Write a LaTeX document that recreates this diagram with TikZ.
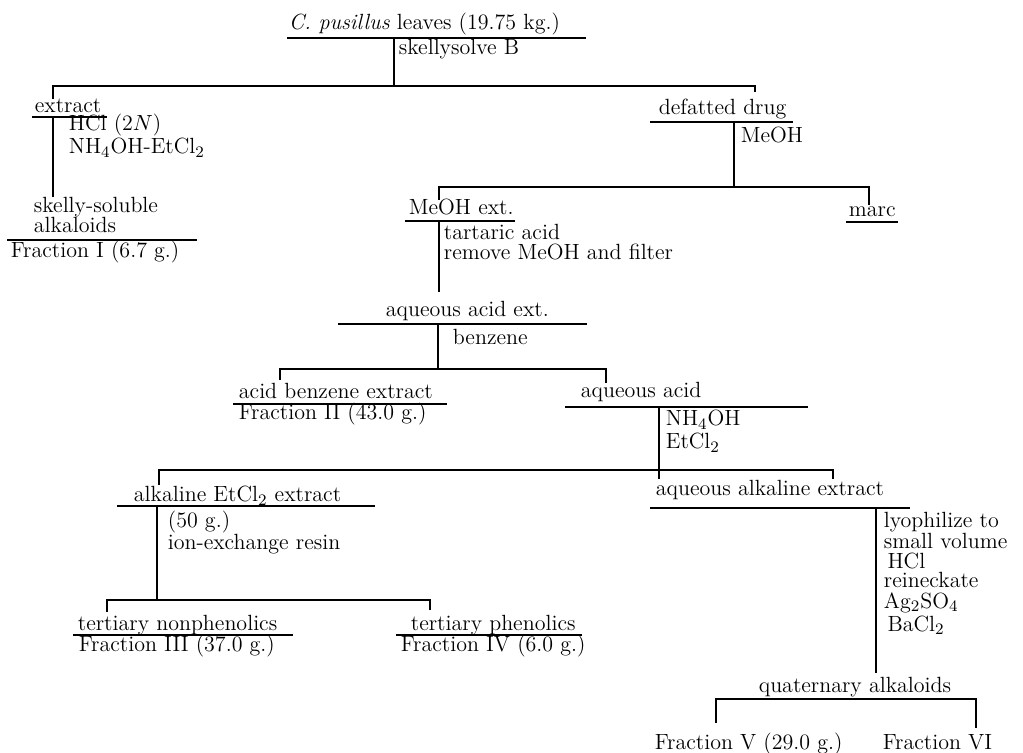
\documentclass[tikz,border=0pt]{standalone}
\usepackage{tikz}

\begin{document}
\begin{tikzpicture}[x=0.5pt, y=-0.5pt, line width=0.9pt,
    font=\fontsize{11}{10}\selectfont,
    txt/.style={anchor=base west, inner sep=0pt, align=left}]
  \useasboundingbox (0,0) rectangle (1023,753);
  % ---------------------------------------------------------------- leaves, skellysolve B
  \node[txt] (leaves) at (288,30) {\textit{C. pusillus} leaves (19.75 kg.)};
  \draw (287,38) -- (586,38);
  \node[txt] (skel) at (398,55) {skellysolve B};
  \coordinate (j1) at (394,38);
  \coordinate (k1) at (394,86);
  \coordinate (t1a) at (53,99);
  \coordinate (t1b) at (755,92);
  \draw (j1) -- (k1);
  \draw (t1a) |- (k1) -| (t1b);
  % ---------------------------------------------------------------- extract
  \node[txt] (extr) at (34,113) {extract};
  \draw (32,117) -- (107,117);
  \node[txt] (hcl) at (68,154) {HCl (2$N$)\\NH$_4$OH-EtCl$_2$};
  \coordinate (j2) at (53,117);
  \coordinate (k2) at (53,197);
  \draw (j2) -- (k2);
  \node[txt] (skal) at (33,233) {skelly-soluble\\alkaloids};
  \draw (7,240) -- (197,240);
  \node[txt] (fr1) at (10,258) {Fraction I (6.7 g.)};
  % ---------------------------------------------------------------- defatted drug, MeOH
  \node[txt] (defat) at (658,115) {defatted drug};
  \draw (650,122) -- (793,122);
  \node[txt] (meoh) at (740,143) {MeOH};
  \coordinate (j3) at (734,122);
  \coordinate (k3) at (734,187);
  \coordinate (t3a) at (439,200);
  \coordinate (t3b) at (869,205);
  \draw (j3) -- (k3);
  \draw (t3a) |- (k3) -| (t3b);
  \node[txt] (mext) at (408,215) {MeOH ext.};
  \draw (405,221) -- (515,221);
  \node[txt] (marc) at (848,217) {marc};
  \draw (846,222) -- (898,222);
  % ---------------------------------------------------------------- tartaric acid
  \node[txt] (tart) at (443,260) {tartaric acid\\remove MeOH and filter};
  \coordinate (j4) at (439,221);
  \coordinate (k4) at (439,292);
  \draw (j4) -- (k4);
  \node[txt] (aqext) at (385,317) {aqueous acid ext.};
  \draw (338,324) -- (587,324);
  % ---------------------------------------------------------------- benzene
  \node[txt] (benz) at (452,345) {benzene};
  \coordinate (j5) at (438,324);
  \coordinate (k5) at (438,369);
  \coordinate (t5a) at (280,380);
  \coordinate (t5b) at (606,383);
  \draw (j5) -- (k5);
  \draw (t5a) |- (k5) -| (t5b);
  \node[txt] (abx) at (238,399) {acid benzene extract};
  \draw (233,404) -- (447,404);
  \node[txt] (fr2) at (238,420) {Fraction II (43.0 g.)};
  \node[txt] (aqac) at (580,398) {aqueous acid};
  \draw (565,407) -- (808,407);
  % ---------------------------------------------------------------- NH4OH, EtCl2
  \node[txt] (nh) at (665,449) {NH$_4$OH\\[1.5pt]EtCl$_2$};
  \coordinate (j6) at (659,407);
  \coordinate (k6) at (659,470);
  \coordinate (k6e) at (659,479);
  \coordinate (t6a) at (159,485);
  \coordinate (t6b) at (833,479);
  \draw (j6) -- (k6e);
  \draw (t6a) |- (k6) -| (t6b);
  % ---------------------------------------------------------------- ion-exchange resin
  \node[txt] (alk) at (133,502) {alkaline EtCl$_2$ extract};
  \draw (117,506) -- (375,506);
  \node[txt] (resin) at (167,550) {(50 g.)\\ion-exchange resin};
  \coordinate (j7) at (157,506);
  \coordinate (k7) at (157,600);
  \coordinate (t7a) at (107,612);
  \coordinate (t7b) at (430,610);
  \draw (j7) -- (k7);
  \draw (t7a) |- (k7) -| (t7b);
  \node[txt] (tnp) at (77,630) {tertiary nonphenolics};
  \draw (73,635) -- (293,635);
  \node[txt] (fr3) at (78,651) {Fraction III (37.0 g.)};
  \node[txt] (tph) at (410,630) {tertiary phenolics};
  \draw (396,635) -- (582,635);
  \node[txt] (fr4) at (400,651) {Fraction IV (6.0 g.)};
  % ---------------------------------------------------------------- quaternary alkaloids
  \node[txt] (aqalk) at (655,495) {aqueous alkaline extract};
  \draw (650,508) -- (910,508);
  \node[txt] (lyo) at (883,631) {lyophilize to\\small volume\\\,HCl\\reineckate\\Ag$_2$SO$_4$\\[1.5pt]\,BaCl$_2$};
  \coordinate (j8) at (876,508);
  \coordinate (k8) at (876,673);
  \draw (j8) -- (k8);
  \node[txt] (quat) at (758,692) {quaternary alkaloids};
  \coordinate (k9) at (846,699);
  \coordinate (t9a) at (716,723);
  \coordinate (t9b) at (976,728);
  \draw (t9a) |- (k9) -| (t9b);
  \node[txt] (fr5) at (654,749) {Fraction V (29.0 g.)};
  \node[txt] (fr6) at (882,749) {Fraction VI};
\end{tikzpicture}
\end{document}
